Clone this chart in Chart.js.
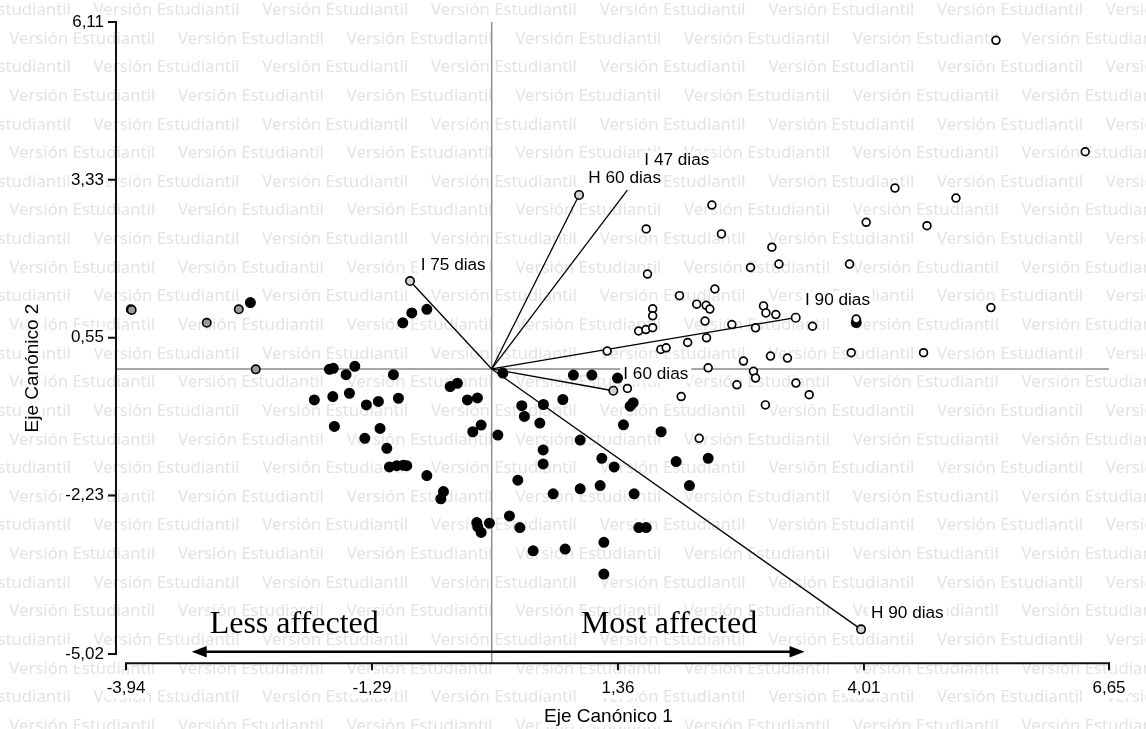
<!DOCTYPE html>
<html><head><meta charset="utf-8">
<script src="https://cdn.jsdelivr.net/npm/chart.js@4.4.1/dist/chart.umd.min.js"></script>
<style>html,body{margin:0;padding:0;background:#fff;}#wrap{width:1146px;height:729px;}</style>
</head><body><div id="wrap"><canvas id="c" width="1146" height="729"></canvas></div>
<script>
// ---- data ----
const xTicks = [-3.94, -1.29, 1.36, 4.01, 6.65];
const xTickLabels = ['-3,94', '-1,29', '1,36', '4,01', '6,65'];
const yTicks = [-5.02, -2.23, 0.55, 3.33, 6.11];
const yTickLabels = ['-5,02', '-2,23', '0,55', '3,33', '6,11'];
const xTitle = 'Eje Canónico 1';
const yTitle = 'Eje Canónico 2';

const blackX = [-2.600,-0.958,-0.861,-0.699,-1.749,-1.706,-1.475,-1.569,-1.059,-1.911,-1.712,-1.533,-1.350,-1.221,-1.005,-1.695,-1.203,-1.367,-1.130,-1.102,-1.023,-0.952,-0.915,-0.699,-0.448,-0.370,-0.262,-0.154,0.120,0.880,1.079,1.355,0.324,0.557,0.766,1.491,1.524,0.352,0.518,-0.204,-0.114,0.066,0.953,0.554,0.554,1.186,1.319,1.419,1.825,1.987,2.332,2.130,1.534,1.168,0.953,0.662,0.281,-0.520,-0.548,-0.161,-0.150,-0.114,-0.025,0.191,0.303,1.585,1.664,0.446,0.791,1.208,1.208,3.927];
const blackY = [1.168,0.812,0.987,1.050,-0.007,0.011,0.046,-0.100,-0.100,-0.545,-0.486,-0.428,-0.633,-0.573,-0.516,-1.012,-1.047,-1.222,-1.398,-1.725,-1.703,-1.696,-1.703,-1.878,-0.310,-0.252,-0.545,-0.510,-0.072,-0.107,-0.107,-0.160,-0.647,-0.626,-0.538,-0.656,-0.594,-0.836,-0.954,-1.106,-0.989,-1.164,-1.252,-1.427,-1.673,-1.573,-1.725,-0.984,-1.106,-1.632,-1.573,-2.053,-2.199,-2.053,-2.111,-2.199,-1.959,-2.159,-2.287,-2.705,-2.782,-2.880,-2.717,-2.589,-2.793,-2.793,-2.793,-3.202,-3.172,-3.053,-3.612,0.817];

const whiteX = [2.372,1.664,2.475,3.018,4.344,5.001,4.034,4.689,2.788,3.094,3.855,1.678,2.404,2.023,2.208,2.310,2.350,1.734,1.734,2.928,2.954,3.061,2.298,2.587,2.842,3.456,3.927,5.378,1.583,1.661,1.734,1.244,1.822,1.879,2.111,2.314,3.873,4.652,2.712,3.003,3.186,2.332,2.820,2.842,2.641,3.277,3.420,2.041,2.948,1.462,2.235,5.432,6.394];
const whiteY = [2.886,2.465,2.378,2.144,3.185,3.010,2.583,2.523,1.787,1.846,1.846,1.671,1.408,1.291,1.141,1.120,1.054,1.059,0.936,1.110,0.987,0.957,0.843,0.782,0.724,0.752,0.878,1.080,0.668,0.694,0.726,0.314,0.344,0.373,0.466,0.549,0.286,0.286,0.139,0.226,0.191,0.019,-0.042,-0.160,-0.279,-0.249,-0.454,-0.486,-0.633,-0.344,-1.222,5.787,3.825];

const grayX = [-3.889,-3.879,-3.070,-2.725,-2.542];
const grayY = [1.050,1.040,0.812,1.050,-0.007];

const vectorNames = ['I 75 dias','H 60 dias','I 47 dias','I 90 dias','I 60 dias','H 90 dias'];
const vectorX = [-0.880, 0.941, 1.461, 3.275, 1.310, 3.979];
const vectorY = [1.548, 3.063, 3.151, 0.902, -0.384, -4.586];
const vectorMarker = ['gray','gray','none','white','gray','gray'];

const noteLess = 'Less affected';
const noteMost = 'Most affected';
const watermarkText = 'Versión Estudiantil';

// ---- styles / annotation geometry (data units) ----
const labelOffsets = [[10.7,-16],[9.3,-16.7],[17,-29.7],[9.3,-17],[10,-16.7],[10,-16.3]];
const arrowGeom = { x1: -3.232, x2: 3.370, y: -4.981 };
const noteLessPos = { x: -2.128, y: -4.657 };
const noteMostPos = { x: 1.910, y: -4.657 };
const SANS = '"Liberation Sans", Arial, Helvetica, sans-serif';
const SERIF = '"Liberation Serif", "Times New Roman", serif';
const WM_FONT = '"Noto Sans", "Open Sans", sans-serif';

const pts = (xs, ys) => xs.map((x, i) => ({ x: x, y: ys[i] }));

const markerFill = { gray: '#d2d2d2', white: '#ffffff', none: 'rgba(0,0,0,0)' };
const vectorDatasets = vectorNames.map((n, i) => ({
  label: n,
  data: [{ x: 0, y: 0 }, { x: vectorX[i], y: vectorY[i] }],
  showLine: true,
  borderColor: '#000',
  borderWidth: 1.3,
  pointRadius: [0, vectorMarker[i] === 'none' ? 0 : 4.2],
  pointBackgroundColor: markerFill[vectorMarker[i]],
  pointBorderColor: '#000',
  pointBorderWidth: 1.6,
  order: 4
}));

const decor = {
  id: 'decor',
  beforeDraw(chart) {
    const ctx = chart.ctx;
    ctx.save();
    ctx.fillStyle = '#fff';
    ctx.fillRect(0, 0, chart.width, chart.height);
    ctx.font = '100px ' + WM_FONT;
    const size = 100 * 146 / ctx.measureText(watermarkText).width;
    ctx.font = size.toFixed(2) + 'px ' + WM_FONT;
    ctx.fillStyle = '#e3e3e3';
    ctx.textBaseline = 'middle';
    ctx.textAlign = 'left';
    const per = 168.7;
    for (let i = 0; i < 27; i++) {
      const y = 10.2 + 28.64 * i;
      const x0 = (i % 2 === 1) ? 9.3 : 93.6 - per;
      for (let x = x0; x < chart.width; x += per) ctx.fillText(watermarkText, x, y);
    }
    ctx.restore();
  },
  beforeDatasetsDraw(chart) {
    const ctx = chart.ctx, xs = chart.scales.x, ys = chart.scales.y;
    ctx.save();
    ctx.strokeStyle = '#8a8a8a';
    ctx.lineWidth = 1.4;
    const zx = xs.getPixelForValue(0), zy = ys.getPixelForValue(0);
    ctx.beginPath();
    ctx.moveTo(xs.left - 10, zy); ctx.lineTo(xs.right, zy);
    ctx.moveTo(zx, ys.top); ctx.lineTo(zx, ys.bottom + 9);
    ctx.stroke();
    ctx.font = '17.2px ' + SANS;
    ctx.textBaseline = 'middle';
    ctx.textAlign = 'left';
    vectorNames.forEach((n, i) => {
      const px = xs.getPixelForValue(vectorX[i]) + labelOffsets[i][0];
      const py = ys.getPixelForValue(vectorY[i]) + labelOffsets[i][1];
      const w = ctx.measureText(n).width;
      ctx.fillStyle = '#fff';
      ctx.fillRect(px - 3, py - 9, w + 6, 18);
      ctx.fillStyle = '#000';
      ctx.fillText(n, px, py);
    });
    ctx.restore();
  },
  afterDraw(chart) {
    const ctx = chart.ctx, xs = chart.scales.x, ys = chart.scales.y;
    ctx.save();
    ctx.strokeStyle = '#111';
    ctx.lineWidth = 2;
    const ax = xs.left - 10;
    const ay = ys.bottom + 9.3;
    ctx.beginPath();
    ctx.moveTo(ax, ys.getPixelForValue(yTicks[yTicks.length - 1]) - 1);
    ctx.lineTo(ax, ys.getPixelForValue(yTicks[0]) + 1);
    yTicks.forEach(v => { const p = ys.getPixelForValue(v); ctx.moveTo(ax - 8, p); ctx.lineTo(ax, p); });
    ctx.moveTo(xs.getPixelForValue(xTicks[0]) - 1, ay);
    ctx.lineTo(xs.getPixelForValue(xTicks[xTicks.length - 1]) + 1, ay);
    xTicks.forEach(v => { const p = xs.getPixelForValue(v); ctx.moveTo(p, ay); ctx.lineTo(p, ay + 7); });
    ctx.stroke();
    ctx.font = '19px ' + SANS;
    ctx.textBaseline = 'middle';
    ctx.textAlign = 'center';
    let w = ctx.measureText(xTitle).width;
    const tx = (xs.left + xs.right) / 2 - 9, ty = 717;
    ctx.fillStyle = '#fff';
    ctx.fillRect(tx - w / 2 - 3, ty - 10, w + 6, 20);
    ctx.fillStyle = '#000';
    ctx.fillText(xTitle, tx, ty);
    w = ctx.measureText(yTitle).width;
    ctx.translate(33, 368);
    ctx.rotate(-Math.PI / 2);
    ctx.fillStyle = '#fff';
    ctx.fillRect(-w / 2 - 3, -10, w + 6, 20);
    ctx.fillStyle = '#000';
    ctx.fillText(yTitle, 0, 0);
    ctx.setTransform(1, 0, 0, 1, 0, 0);
    const x1 = xs.getPixelForValue(arrowGeom.x1), x2 = xs.getPixelForValue(arrowGeom.x2), yA = ys.getPixelForValue(arrowGeom.y);
    ctx.strokeStyle = '#000';
    ctx.fillStyle = '#000';
    ctx.lineWidth = 2.6;
    ctx.beginPath();
    ctx.moveTo(x1 + 10, yA); ctx.lineTo(x2 - 10, yA);
    ctx.stroke();
    ctx.beginPath();
    ctx.moveTo(x1, yA); ctx.lineTo(x1 + 15, yA - 5.8); ctx.lineTo(x1 + 15, yA + 5.8); ctx.closePath();
    ctx.moveTo(x2, yA); ctx.lineTo(x2 - 15, yA - 5.8); ctx.lineTo(x2 - 15, yA + 5.8); ctx.closePath();
    ctx.fill();
    ctx.font = '32px ' + SERIF;
    ctx.textBaseline = 'alphabetic';
    ctx.textAlign = 'center';
    ctx.fillText(noteLess, xs.getPixelForValue(noteLessPos.x), ys.getPixelForValue(noteLessPos.y));
    ctx.fillText(noteMost, xs.getPixelForValue(noteMostPos.x), ys.getPixelForValue(noteMostPos.y));
    ctx.restore();
  }
};

new Chart(document.getElementById('c'), {
  type: 'scatter',
  data: {
    datasets: [
      { label: 'white', data: pts(whiteX, whiteY), pointRadius: 3.9, pointBorderWidth: 1.7, pointBackgroundColor: '#fff', pointBorderColor: '#000', order: 0 },
      { label: 'black', data: pts(blackX, blackY), pointRadius: 4.8, pointBorderWidth: 1.4, pointBackgroundColor: '#000', pointBorderColor: '#000', order: 1 },
      { label: 'gray', data: pts(grayX, grayY), pointRadius: 4.2, pointBorderWidth: 1.6, pointBackgroundColor: '#9c9c9c', pointBorderColor: '#000', order: 2 }
    ].concat(vectorDatasets)
  },
  options: {
    responsive: false,
    animation: false,
    layout: { padding: { top: 22, right: 37, bottom: 0, left: 0 } },
    plugins: { legend: { display: false }, tooltip: { enabled: false } },
    elements: { point: { hoverRadius: 0 } },
    scales: {
      x: {
        type: 'linear', min: xTicks[0], max: xTicks[xTicks.length - 1],
        afterBuildTicks: s => { s.ticks = xTicks.map(v => ({ value: v })); },
        afterFit: s => { s.height = 75; s.paddingLeft = 0; s.paddingRight = 0; s.paddingTop = 0; s.paddingBottom = 0; },
        grid: { display: false, drawTicks: false },
        border: { display: false },
        ticks: {
          autoSkip: false, maxRotation: 0, padding: 24, color: '#000',
          font: { family: SANS, size: 17 },
          callback: (v, i) => xTickLabels[i],
          showLabelBackdrop: true, backdropColor: '#fff', backdropPadding: { top: 0, bottom: 0, left: 2, right: 2 }
        }
      },
      y: {
        type: 'linear', min: yTicks[0], max: yTicks[yTicks.length - 1],
        afterBuildTicks: s => { s.ticks = yTicks.map(v => ({ value: v })); },
        afterFit: s => { s.width = 126; s.paddingLeft = 0; s.paddingRight = 0; s.paddingTop = 0; s.paddingBottom = 0; },
        grid: { display: false, drawTicks: false },
        border: { display: false },
        ticks: {
          autoSkip: false, padding: 22, color: '#000',
          font: { family: SANS, size: 17 },
          callback: (v, i) => yTickLabels[i],
          showLabelBackdrop: true, backdropColor: '#fff', backdropPadding: { top: 0, bottom: 0, left: 2, right: 2 }
        }
      }
    }
  },
  plugins: [decor]
});
</script>
</body></html>
